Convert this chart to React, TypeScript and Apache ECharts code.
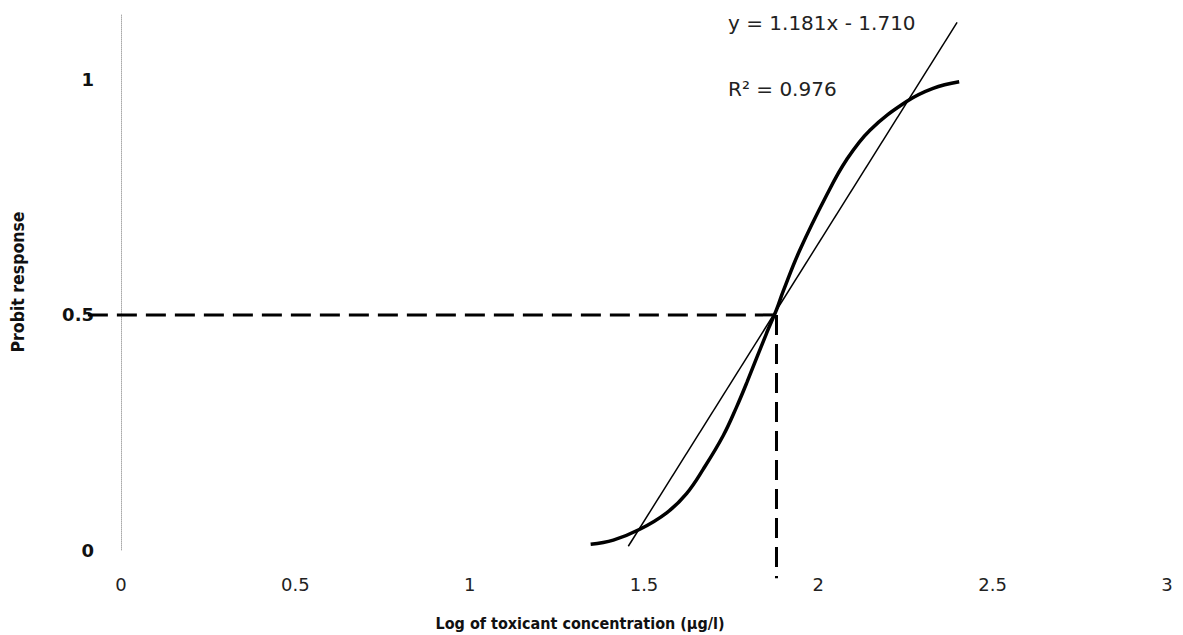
import React, { useEffect, useRef } from "react";
import * as echarts from "echarts";

// Fitted probit curve
const curveX = [1.347, 1.412, 1.488, 1.565, 1.622, 1.67, 1.727, 1.766, 1.796, 1.852, 1.88, 1.899, 1.947, 2.024, 2.081, 2.148, 2.253, 2.329, 2.404];
const curveY = [0.012, 0.021, 0.044, 0.079, 0.12, 0.172, 0.243, 0.305, 0.358, 0.462, 0.511, 0.55, 0.638, 0.755, 0.83, 0.893, 0.954, 0.982, 0.996];

// Linear trend line end points
const trendX = [1.455, 2.398];
const trendY = [0.008, 1.122];

// LC50 guide lines
const guideH = [[-0.095, 0.5], [1.88, 0.5]];
const guideV = [[1.88, 0.5], [1.88, -0.06]];

const xTicks = [0, 0.5, 1, 1.5, 2, 2.5, 3];
const yTicks = [0, 0.5, 1];

const equationText = "y = 1.181x - 1.710";
const r2Text = "R² = 0.976";
const xName = "Log of toxicant concentration (µg/l)";
const yName = "Probit response";

export default function App() {
  const ref = useRef<HTMLDivElement>(null);
  useEffect(() => {
    if (!ref.current) return;
    const chart = echarts.init(ref.current, undefined, { renderer: "svg" });
    const curve = curveX.map((x, i) => [x, curveY[i]]);
    const trend = trendX.map((x, i) => [x, trendY[i]]);
    const condensed = "'Liberation Sans Narrow', 'DejaVu Sans Condensed', Roboto, sans-serif";
    const dashStyle = { stroke: "#000", lineWidth: 3, lineDash: [20, 9], fill: "none" };
    const textStyle = { fontFamily: "DejaVu Sans", fontSize: 20, fill: "#222", verticalAlign: "middle" };
    chart.setOption({
      animation: false,
      backgroundColor: "#ffffff",
      grid: { left: 121, right: 16, top: 14, bottom: 85, containLabel: false, outerBoundsMode: "none" },
      xAxis: {
        type: "value",
        min: 0,
        max: 3,
        interval: 0.5,
        name: xName,
        nameLocation: "middle",
        nameGap: 65,
        nameTextStyle: {
          fontFamily: condensed,
          fontWeight: "bold",
          fontSize: 16,
          color: "#111",
          padding: [0, 128, 0, 0],
        },
        axisLine: { show: false },
        axisTick: { show: false },
        splitLine: { show: false },
        axisLabel: {
          margin: 25,
          fontFamily: "DejaVu Sans",
          fontSize: 18,
          color: "#222",
          formatter: (v: number) => (xTicks.some((t) => Math.abs(t - v) < 1e-6) ? String(v) : ""),
        },
      },
      yAxis: {
        type: "value",
        min: 0,
        max: 1.14,
        interval: 0.5,
        name: yName,
        nameLocation: "middle",
        nameGap: 94,
        nameTextStyle: {
          fontFamily: condensed,
          fontWeight: "bold",
          fontSize: 17.5,
          color: "#111",
        },
        axisLine: { show: true, lineStyle: { color: "#aaa", type: "dotted", width: 1 } },
        axisTick: { show: false },
        splitLine: { show: false },
        axisLabel: {
          margin: 27,
          fontFamily: "DejaVu Sans",
          fontWeight: "bold",
          fontSize: 18,
          color: "#111",
          formatter: (v: number) => (yTicks.some((t) => Math.abs(t - v) < 1e-6) ? String(v) : ""),
        },
      },
      series: [
        {
          type: "line",
          data: trend,
          symbol: "none",
          lineStyle: { color: "#000", width: 1.5 },
          z: 2,
        },
        {
          type: "line",
          data: curve,
          smooth: 0.4,
          symbol: "none",
          lineStyle: { color: "#000", width: 3.5 },
          z: 3,
        },
      ],
    });
    // Guide lines extend past the axes, so they are placed with the chart's own scale
    const toPx = (p: number[]) => chart.convertToPixel({ gridIndex: 0 }, p) as number[];
    chart.setOption({
      graphic: [
        { type: "polyline", z: 1, shape: { points: guideH.map(toPx) }, style: dashStyle },
        { type: "polyline", z: 1, shape: { points: guideV.map(toPx) }, style: dashStyle },
        { type: "text", x: 728, y: 23, style: { ...textStyle, text: equationText } },
        { type: "text", x: 728, y: 89, style: { ...textStyle, text: r2Text } },
      ],
    });
    return () => chart.dispose();
  }, []);
  return (
    <div
      ref={ref}
      style={{ position: "absolute", left: 0, top: 0, width: 1183, height: 635 }}
    />
  );
}
